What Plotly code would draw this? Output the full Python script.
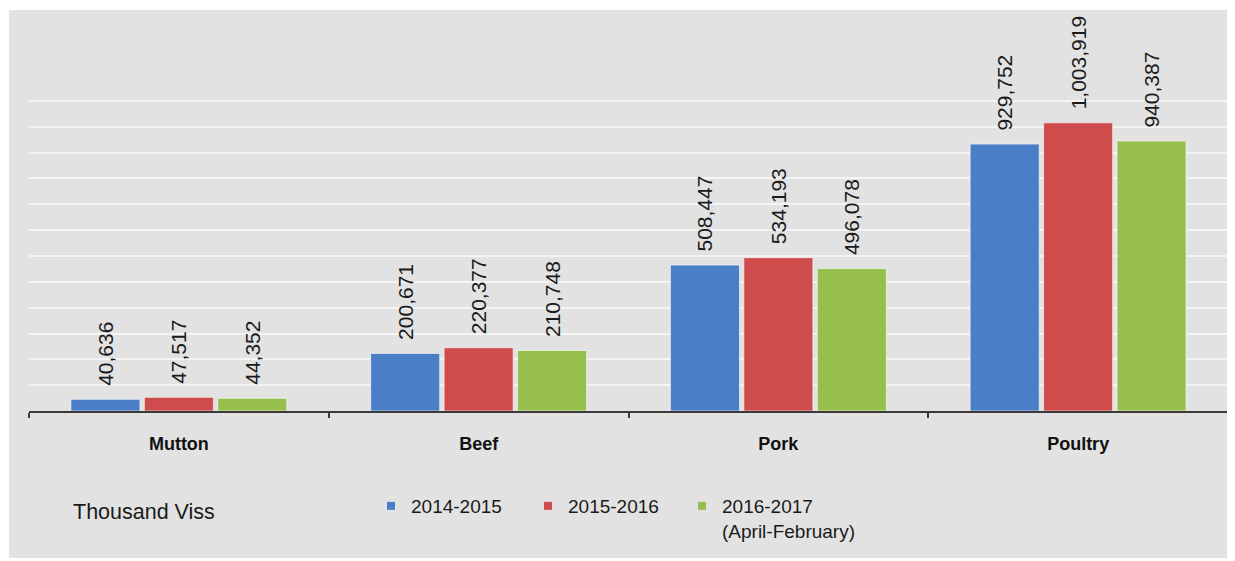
import plotly.graph_objects as go

categories = ["Mutton", "Beef", "Pork", "Poultry"]
series_names = ["2014-2015", "2015-2016", "2016-2017<br>(April-February)"]
values_2014_2015 = [40636, 200671, 508447, 929752]
values_2015_2016 = [47517, 220377, 534193, 1003919]
values_2016_2017 = [44352, 210748, 496078, 940387]
series_values = [values_2014_2015, values_2015_2016, values_2016_2017]
colors = ["#4a7ec6", "#cf4c4c", "#97bf4e"]
grid_values = [0, 90000, 180000, 270000, 360000, 450000, 540000, 630000,
               720000, 810000, 900000, 990000, 1080000]
unit_note = "Thousand Viss"

# page body has an 8px margin; figure is sized so it ends at the window edge
W, H = 1227, 553
L, R, T, B = 21, 7, 2, 150
PW, PH = W - L - R, H - T - B
FONT = "Liberation Sans, Arial"

legend_names = ["legend", "legend2", "legend3"]
legend_text_x = [409, 566, 720]   # page x where legend text begins

fig = go.Figure()

for name, vals, col, lg in zip(series_names, series_values, colors, legend_names):
    fig.add_trace(go.Bar(
        x=categories, y=vals, name=name,
        marker=dict(color=col, line=dict(color="rgba(255,255,255,0.6)", width=1)),
        texttemplate="\u2002%{y:,}", textposition="outside", textangle=-90,
        constraintext="none",
        textfont=dict(family=FONT, size=21, color="#1a1a1a"),
        cliponaxis=False, showlegend=False,
    ))
    fig.add_trace(go.Scatter(
        x=[None], y=[None], mode="markers", name=name, legend=lg,
        marker=dict(symbol="square", size=8, color=col),
        showlegend=True,
    ))

fig.add_shape(type="rect", xref="paper", yref="paper", layer="below",
              x0=-(L - 1) / PW, x1=1.0, y0=-(B - 3) / PH, y1=1.0,
              fillcolor="#e2e2e2", line=dict(width=0))

fig.add_annotation(text=unit_note, xref="paper", yref="paper",
                   x=(71 - 29) / PW, y=-(512 - 411) / PH, xanchor="left", yanchor="middle",
                   showarrow=False,
                   font=dict(family=FONT, size=21.5, color="#1a1a1a"))

legend_common = dict(orientation="h", xanchor="left", yanchor="top",
                     bgcolor="rgba(0,0,0,0)", valign="top",
                     font=dict(family=FONT, size=19, color="#1a1a1a"))
layout_legends = {}
for lg, tx in zip(legend_names, legend_text_x):
    layout_legends[lg] = dict(legend_common, x=(tx - 38 - 29) / PW, y=-76 / PH)

fig.update_layout(
    width=W, height=H,
    margin=dict(l=L, r=R, t=T, b=B),
    paper_bgcolor="white", plot_bgcolor="#dcdcdc",
    barmode="group", bargap=0.265, bargroupgap=0.06,
    font=dict(family=FONT, color="#1a1a1a"),
    xaxis=dict(showline=True, linecolor="#3a3a3a", linewidth=1.5,
               ticks="outside", tickson="boundaries", ticklen=5, tickcolor="#3a3a3a",
               tickwidth=1.5, ticklabelstandoff=16,
               tickfont=dict(family=FONT, size=18, color="#111111", weight="bold"),
               showgrid=False),
    yaxis=dict(range=[0, 1397000], tickmode="array", tickvals=grid_values,
               showticklabels=False, showgrid=True, gridcolor="#f4f4f4", gridwidth=1.5,
               zeroline=False, fixedrange=True),
    **layout_legends,
)

fig.write_html("out.html")
